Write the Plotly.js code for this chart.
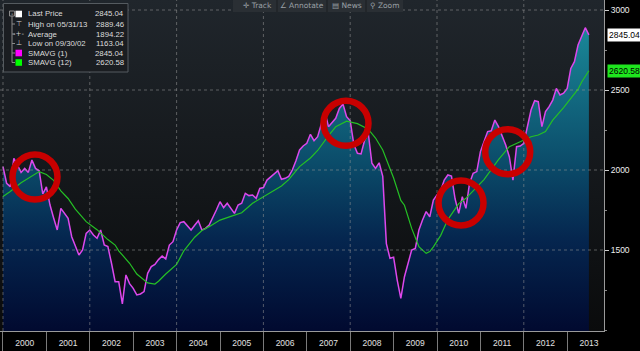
<!DOCTYPE html>
<html><head><meta charset="utf-8">
<script src="https://cdn.plot.ly/plotly-3.0.1.min.js"></script>
<style>
html,body{margin:0;padding:0;background:#000;width:640px;height:351px;overflow:hidden}
#wrap{position:relative;width:640px;height:351px}
#bg{position:absolute;left:0;top:0;width:604px;height:331px;background:linear-gradient(#20262c,#0a0b0c)}
#chart{position:absolute;left:0;top:0;width:640px;height:351px}
</style></head><body>
<div id="wrap"><div id="bg"></div><div id="chart"></div></div>
<script>
// ---- data (monthly closes, first point = close of Dec 1999) ----
const startYear = 2000;
const priceValues = [
  2021,
  1917, 1896, 2073, 2031, 1985, 2010, 1985, 2062, 2010, 1995, 1850, 1895,
  1781, 1700, 1625, 1760, 1729, 1698, 1583, 1520, 1469, 1500, 1604, 1625,
  1594, 1573, 1625, 1531, 1521, 1417, 1302, 1302, 1163.04, 1344, 1290, 1260,
  1219, 1225, 1240, 1354, 1396, 1410, 1440, 1462, 1444, 1531, 1552, 1625,
  1671, 1677, 1650, 1625, 1655, 1683, 1625, 1635, 1656, 1700, 1750, 1802,
  1765, 1792, 1760, 1729, 1781, 1792, 1854, 1840, 1844, 1823, 1885, 1890,
  1937, 1958, 1975, 1996, 1942, 1948, 1960, 2000, 2058, 2125, 2150, 2167,
  2223, 2183, 2208, 2292, 2365, 2271, 2300, 2323, 2385, 2412, 2333, 2308,
  2160, 2104, 2100, 2187, 2229, 2042, 2010, 2045, 1960, 1540, 1448, 1455,
  1312, 1198, 1333, 1417, 1500, 1510, 1625, 1687, 1740, 1708, 1812, 1844,
  1870, 1937, 1969, 1962, 1820, 1729, 1833, 1760, 1917, 1979, 1990, 2115,
  2177, 2240, 2245, 2312, 2271, 2219, 2156, 2083, 1937, 2146, 2150, 2167,
  2271, 2375, 2433, 2427, 2271, 2365, 2396, 2437, 2510, 2469, 2480, 2510,
  2635, 2677, 2781, 2833, 2889.46, 2845.04
];
// 12-period simple moving average, read at these month indices
const smaMonthIndex = [0,2,5,8,10,12,14,16,18,20,23,26,29,31,32,35,37,40,42,43,45,48,50,53,55,57,60,63,66,69,74,77,79,82,85,87,90,92,95,98,101,103,105,107,108,110,111,113,115,117,118,119,121,123,125,126,128,133,137,140,143,146,148,150,152,155,159,160,162];
const smaValues = [1835,1866,1920,1960,1990,1972,1935,1870,1822,1755,1677,1627,1565,1531,1495,1417,1350,1294,1287,1305,1350,1410,1495,1580,1622,1646,1687,1710,1733,1792,1858,1900,1940,2021,2075,2122,2215,2270,2305,2290,2255,2200,2125,2000,1950,1810,1780,1635,1521,1479,1490,1520,1590,1690,1760,1790,1823,1940,2065,2146,2177,2208,2219,2240,2312,2390,2505,2550,2620.58];

const yearLabels = ['2000','2001','2002','2003','2004','2005','2006','2007','2008','2009','2010','2011','2012','2013'];
const gridYears = [2000,2002,2004,2006,2008,2010,2012];
const yTicks = [1500,2000,2500,3000];
const legendLabels = ['Last Price','High on 05/31/13','Average','Low on 09/30/02','SMAVG (1)','SMAVG (12)'];
const legendValues = ['2845.04','2889.46','1894.22','1163.04','2845.04','2620.58'];
const toolbarItems = ['\u271B Track','\u2220 Annotate','\u25A4 News','\u26B2 Zoom'];
// highlight rings (year, level)
const ringYears = [2000.737, 2007.903, 2010.553, 2011.629];
const ringLevels = [1956, 2292, 1794, 2114];

// ---- build ----
const priceX = priceValues.map((v,i)=> startYear + i/12);
const smaX = smaMonthIndex.map(i=> startYear + i/12);
const lastPrice = priceValues[priceValues.length-1];
const lastSma = smaValues[smaValues.length-1];

const PW = 604, PH = 331;
const px = x => x/PW, py = y => 1 - y/PH;
const FONT = 'Liberation Sans, Arial, sans-serif';

const traces = [
  {x: priceX, y: priceValues, type:'scatter', mode:'lines',
   line:{color:'#dc48ec', width:1.5},
   fill:'tozeroy',
   fillgradient:{type:'vertical', start:1000, stop:2900,
     colorscale:[[0,'#010a30'],[0.3,'#05264f'],[0.55,'#0b4c6a'],[1,'#1a8898']]},
   hoverinfo:'skip'},
  {x: smaX, y: smaValues, type:'scatter', mode:'lines',
   line:{color:'#25c025', width:1.2}, hoverinfo:'skip'}
];

const shapes = [];
const grid = {color:'rgba(150,150,150,0.55)', width:1, dash:'dot'};
yTicks.forEach(v=> shapes.push({type:'line', xref:'paper', yref:'y', x0:0, x1:1, y0:v, y1:v, line:grid, layer:'above'}));
gridYears.forEach(v=> shapes.push({type:'line', xref:'x', yref:'paper', x0:v, x1:v, y0:0, y1:1, line:grid, layer:'above'}));
ringYears.forEach((x,i)=> shapes.push({type:'circle', xref:'x', yref:'y', xsizemode:'pixel', ysizemode:'pixel',
   xanchor:x, yanchor:ringLevels[i], x0:-22.5, x1:22.5, y0:-22.5, y1:22.5,
   line:{color:'#c80000', width:6.5}, layer:'above'}));

// legend box
shapes.push({type:'rect', xref:'paper', yref:'paper', x0:px(3.5), x1:px(128), y0:py(72), y1:py(3.5),
  fillcolor:'#1a1d21', line:{color:'#555b60', width:1}, layer:'above'});
const rowY = [14, 24, 34, 43.5, 53, 62.5];
shapes.push({type:'line', xref:'paper', yref:'paper', x0:px(12), x1:px(12), y0:py(16), y1:py(62.5), line:{color:'#8a8a8a', width:1}, layer:'above'});
rowY.forEach(y=> shapes.push({type:'line', xref:'paper', yref:'paper', x0:px(12), x1:px(15), y0:py(y), y1:py(y), line:{color:'#8a8a8a', width:1}, layer:'above'}));
shapes.push({type:'rect', xref:'paper', yref:'paper', x0:px(9.5), x1:px(14.5), y0:py(16), y1:py(11), fillcolor:'#1a1d21', line:{color:'#8a8a8a', width:1}, layer:'above'});
const sqColors = {0:'#ffffff', 4:'#ff00ff', 5:'#00ff00'};
Object.keys(sqColors).forEach(k=>{
  const y = rowY[k];
  shapes.push({type:'rect', xref:'paper', yref:'paper', x0:px(15.5), x1:px(22), y0:py(y+3.3), y1:py(y-3.3), fillcolor:sqColors[k], line:{width:0}, layer:'above'});
});
// toolbar
shapes.push({type:'rect', xref:'paper', yref:'paper', x0:px(233), x1:px(403), y0:py(12), y1:py(0), fillcolor:'#2a2f34', line:{width:0}, layer:'above'});
[277, 327, 366].forEach(x=> shapes.push({type:'line', xref:'paper', yref:'paper', x0:px(x), x1:px(x), y0:py(12), y1:py(0), line:{color:'#1b1e21', width:1}, layer:'above'}));

const annotations = [];
legendLabels.forEach((t,i)=>{
  annotations.push({xref:'paper', yref:'paper', x:px(26), y:py(rowY[i]), xanchor:'left', yanchor:'middle', text:t, showarrow:false,
    font:{family:FONT, size:7.8, color:'#dcdcdc'}});
  annotations.push({xref:'paper', yref:'paper', x:px(125.5), y:py(rowY[i]), xanchor:'right', yanchor:'middle', text:legendValues[i], showarrow:false,
    font:{family:FONT, size:7.8, color:'#dcdcdc'}});
});
const icons = {1:'\u22A4', 2:'-+-', 3:'\u22A5'};
Object.keys(icons).forEach(k=> annotations.push({xref:'paper', yref:'paper', x:px(18.7), y:py(rowY[k]), xanchor:'center', yanchor:'middle',
  text:icons[k], showarrow:false, font:{family:'DejaVu Sans', size:7, color:'#cfcfcf'}}));
annotations.push({xref:'paper', yref:'paper', x:px(12), y:py(13.5), xanchor:'center', yanchor:'middle', text:'-', showarrow:false, font:{family:'DejaVu Sans', size:7, color:'#cfcfcf'}});
const tbCenters = [257, 302, 346.5, 385];
toolbarItems.forEach((t,i)=> annotations.push({xref:'paper', yref:'paper', x:px(tbCenters[i]), y:py(6), xanchor:'center', yanchor:'middle',
  text:t, showarrow:false, font:{family:'DejaVu Sans, Liberation Sans', size:7.5, color:'#9aa0a6'}}));
// right-side value callouts
annotations.push({xref:'paper', yref:'y', x:1, y:lastPrice, xanchor:'left', yanchor:'middle', xshift:3, text:lastPrice.toFixed(2), showarrow:false,
  bgcolor:'#ffffff', borderpad:1, font:{family:FONT, size:8.5, color:'#000'}});
annotations.push({xref:'paper', yref:'y', x:1, y:lastSma, xanchor:'left', yanchor:'middle', xshift:3, text:lastSma.toFixed(2), showarrow:false,
  bgcolor:'#1ee61e', borderpad:1, font:{family:FONT, size:8.5, color:'#000'}});

const layout = {
  width:640, height:351,
  margin:{l:0, r:36, t:0, b:20, pad:0},
  paper_bgcolor:'rgba(0,0,0,0)', plot_bgcolor:'rgba(0,0,0,0)',
  showlegend:false,
  xaxis:{type:'linear', range:[1999.931, 2013.848], tickmode:'array',
    tickvals: yearLabels.map(s=> +s + 0.5), ticktext: yearLabels,
    ticks:'', ticklabelstandoff:4,
    tickfont:{family:FONT, size:8.5, color:'#e0e0e0'},
    showgrid:false, zeroline:false, showline:true, linecolor:'#9a9a9a', linewidth:1,
    minor:{tickmode:'array', tickvals: yearLabels.map(s=> +s), ticks:'outside', ticklen:20, tickcolor:'#7a7a7a', tickwidth:1, showgrid:false}},
  yaxis:{side:'right', range:[993.75, 3062.5], tickmode:'array', tickvals:yTicks,
    ticks:'outside', ticklen:4, tickcolor:'#cccccc',
    tickfont:{family:FONT, size:8.5, color:'#eeeeee'},
    showgrid:false, zeroline:false, showline:true, linecolor:'#9a9a9a', linewidth:1,
    minor:{tickmode:'linear', tick0:0, dtick:250, ticks:'outside', ticklen:2, tickcolor:'#888888', showgrid:false}},
  shapes: shapes,
  annotations: annotations
};
Plotly.newPlot('chart', traces, layout, {staticPlot:true, displayModeBar:false});
</script></body></html>
